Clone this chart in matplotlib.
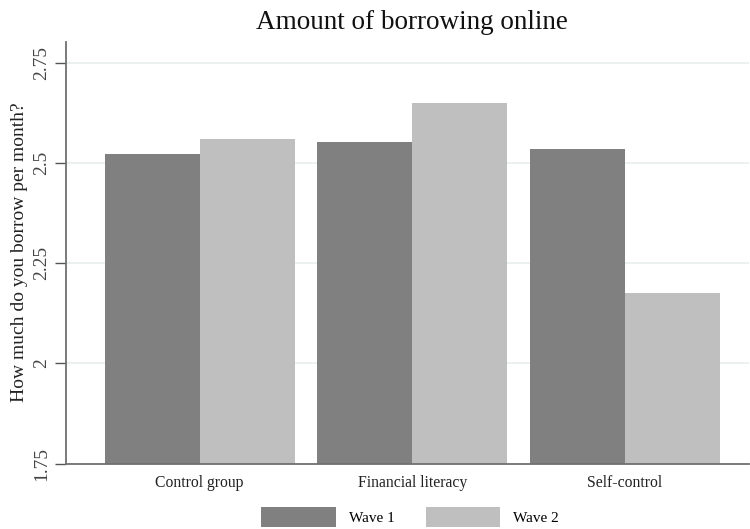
import matplotlib
matplotlib.use("Agg")
import matplotlib.pyplot as plt
import numpy as np
from matplotlib.patches import Patch

categories = ["Control group", "Financial literacy", "Self-control"]
wave1 = [2.523, 2.553, 2.535]
wave2 = [2.560, 2.650, 2.175]
series_names = ["Wave 1", "Wave 2"]
yticks = [1.75, 2, 2.25, 2.5, 2.75]
ytick_labels = ["1.75", "2", "2.25", "2.5", "2.75"]

plt.rcParams['font.family'] = ['Liberation Serif', 'DejaVu Serif']

fig = plt.figure(figsize=(7.5, 5.29), dpi=100)
ax = fig.add_axes([0.0876, 0.1238, 0.9111, 0.7974])

c1, c2 = "#808080", "#bfbfbf"
w = 0.4465
x = np.arange(len(categories))
base = 1.75
ax.bar(x - w/2, np.array(wave1) - base, w, bottom=base, color=c1, edgecolor="none", zorder=2)
ax.bar(x + w/2, np.array(wave2) - base, w, bottom=base, color=c2, edgecolor="none", zorder=2)

ax.set_xlim(-0.629, 2.583)
ax.set_ylim(1.75, 2.8025)
ax.set_yticks(yticks)
ax.set_yticklabels(ytick_labels, rotation=90, va="center", fontsize=14, color="#444444")
ax.set_xticks(x)
ax.set_xticklabels(categories, fontsize=11.3, color="#222222")
ax.tick_params(axis="x", length=0, pad=8)
ax.tick_params(axis="y", length=8, width=1, color="#555555", pad=3)
for yv in yticks[1:]:
    ax.axhline(yv, color="#e8eeee", lw=1.2, zorder=1)

for s in ["top", "right"]:
    ax.spines[s].set_visible(False)
for s in ["left", "bottom"]:
    ax.spines[s].set_color("#707070")
    ax.spines[s].set_linewidth(1.3)

ax.set_ylabel("How much do you borrow per month?", fontsize=14, color="#222222", labelpad=4)
ax.set_title("Amount of borrowing online", fontsize=19.5, color="#111111", pad=9, x=0.507)

handles = [Patch(facecolor=c1, edgecolor="none"), Patch(facecolor=c2, edgecolor="none")]
fig.legend(handles, series_names, loc="lower center", bbox_to_anchor=(0.547, -0.0215), ncol=2,
           frameon=False, fontsize=11, handlelength=4.9, handleheight=1.6, columnspacing=2.0,
           handletextpad=0.85)

fig.savefig("out.png", dpi=100)
